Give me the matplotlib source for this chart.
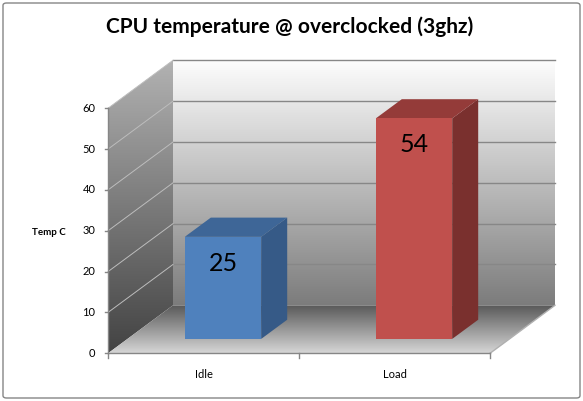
import numpy as np
import matplotlib
matplotlib.use("Agg")
import matplotlib.pyplot as plt
from matplotlib.patches import Polygon, Rectangle, FancyBboxPatch
from matplotlib.colors import LinearSegmentedColormap

plt.rcParams['font.family'] = ['Lato', 'DejaVu Sans']

# datos
categorias = ["Idle", "Load"]
temperaturas = [25, 54]
colores_frente = ["#4F81BD", "#C0504D"]
colores_arriba = ["#3E6697", "#943B39"]
colores_lado = ["#365A87", "#7A302E"]
ticks_y = [0, 10, 20, 30, 40, 50, 60]
titulo = "CPU temperature @ overclocked (3ghz)"

# escala de la "perspectiva" (pixeles por unidad)
px_cat = 191.0
px_val = 245.0 / 60
prof_x = 65 / px_cat     # profundidad del grafico en unidades de categoria
prof_v = 48 / px_val     # profundidad en unidades de valor
ymax = ticks_y[-1]
ncat = len(categorias)

fig = plt.figure(figsize=(5.83, 4.01), dpi=100)
ax = fig.add_axes([0, 0, 1, 1])
ax.axis('off')


def degradado(verts, c_abajo, c_arriba, z=0):
    # rellena un poligono con un degradado vertical
    poly = Polygon(verts, closed=True, facecolor='none', edgecolor='none')
    ax.add_patch(poly)
    xs = [p[0] for p in verts]
    ys = [p[1] for p in verts]
    cmap = LinearSegmentedColormap.from_list('g', [c_abajo, c_arriba])
    grad = np.linspace(0, 1, 256).reshape(-1, 1)
    im = ax.imshow(grad, cmap=cmap, origin='lower', aspect='auto',
                   extent=[min(xs), max(xs), min(ys), max(ys)],
                   interpolation='bilinear', zorder=z)
    im.set_clip_path(poly)


# pared del fondo
degradado([(prof_x, prof_v), (ncat + prof_x, prof_v),
           (ncat + prof_x, ymax + prof_v), (prof_x, ymax + prof_v)],
          "#7c7c7c", "#fdfdfd")
# pared lateral
degradado([(0, 0), (prof_x, prof_v), (prof_x, ymax + prof_v), (0, ymax)],
          "#434343", "#b2b2b2")
# piso
degradado([(0, 0), (ncat, 0), (ncat + prof_x, prof_v), (prof_x, prof_v)],
          "#d6d6d6", "#595959")

# lineas de la grilla
for t in ticks_y[1:]:
    ax.plot([prof_x, ncat + prof_x], [t + prof_v, t + prof_v], color="#878787", lw=1, zorder=1)
    ax.plot([0, prof_x], [t, t + prof_v], color="#bdbdbd", lw=0.7, zorder=1)
ax.plot([ncat, ncat + prof_x], [0, prof_v], color="#b0b0b0", lw=1, zorder=1)

# eje y
ax.plot([0, 0], [0, ymax], color="#868686", lw=1, zorder=2)
for t in ticks_y:
    ax.plot([-3 / px_cat, 0], [t, t], color="#868686", lw=1, zorder=2)
    ax.annotate(str(t), (0, t), xytext=(-9, 0), textcoords='offset points',
                ha='right', va='center', fontsize=8)

# eje x
ax.plot([0, ncat], [0, 0], color="#868686", lw=1, zorder=2)
for i in range(ncat + 1):
    ax.plot([i, i], [0, -5 / px_val], color="#868686", lw=1, zorder=2)
for i, c in enumerate(categorias):
    ax.annotate(c, (i + 0.5, 0), xytext=(0, -15), textcoords='offset points',
                ha='center', va='center', fontsize=8)

# barras
ancho = 0.4
f0 = 0.3
d = 0.4
for i, val in enumerate(temperaturas):
    x0 = i + 0.5 - ancho / 2 + f0 * prof_x
    x1 = x0 + ancho
    y0 = f0 * prof_v
    y1 = y0 + val
    dx = d * prof_x
    dv = d * prof_v
    ax.add_patch(Polygon([(x1, y0), (x1, y1), (x1 + dx, y1 + dv), (x1 + dx, y0 + dv)],
                         facecolor=colores_lado[i], edgecolor='none', zorder=3))
    ax.add_patch(Polygon([(x0, y1), (x1, y1), (x1 + dx, y1 + dv), (x0 + dx, y1 + dv)],
                         facecolor=colores_arriba[i], edgecolor='none', zorder=3))
    ax.add_patch(Rectangle((x0, y0), ancho, val, facecolor=colores_frente[i],
                           edgecolor='none', zorder=4))
    ax.annotate(str(val), ((x0 + x1) / 2, y1), xytext=(0, -19), textcoords='offset points',
                ha='center', va='center', fontsize=18, zorder=5)

ax.set_xlim(-108 / px_cat, (583 - 108) / px_cat)
ax.set_ylim((353.3 - 401) / px_val, 353.3 / px_val)

# textos
fig.text(290 / 583, 1 - 27 / 401, titulo, ha='center', va='center',
         fontsize=15, fontweight='bold')
fig.text(49 / 583, 1 - 232 / 401, "Temp C", ha='center', va='center',
         fontsize=7, fontweight='bold')

# borde del grafico
fig.patches.append(FancyBboxPatch((3 / 583, 3 / 401), 577 / 583, 395 / 401,
                                  boxstyle="round,pad=0,rounding_size=0.006",
                                  transform=fig.transFigure, fill=False,
                                  edgecolor="#868686", lw=1))

fig.savefig("out.png", dpi=100)
